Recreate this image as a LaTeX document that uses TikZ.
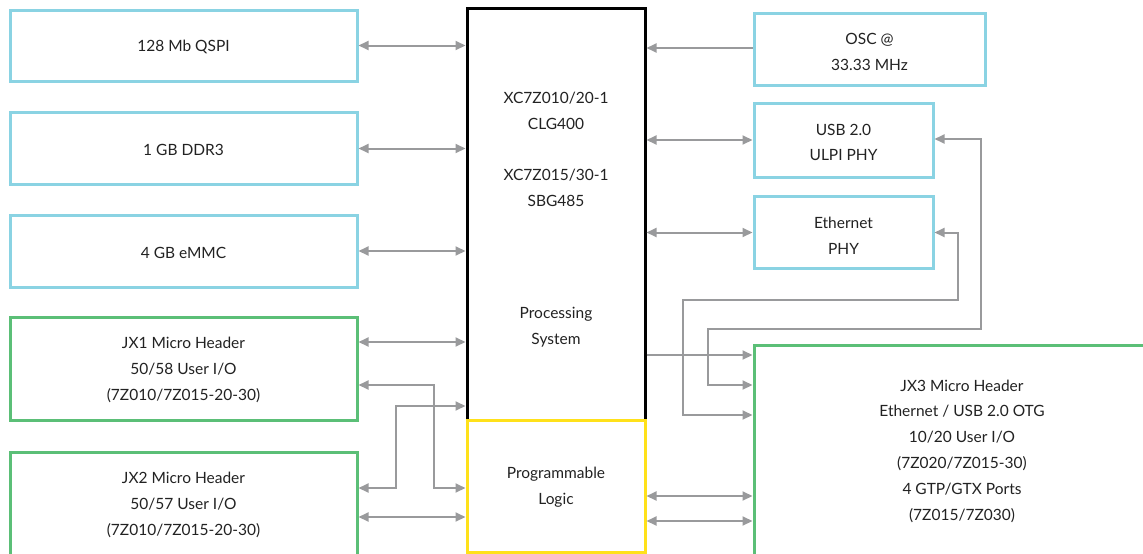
\documentclass[tikz,border=0pt]{standalone}
\usepackage{fontspec}
\setmainfont{Lato}
\usetikzlibrary{arrows.meta}
\definecolor{cblue}{HTML}{8AD3E3}
\definecolor{cgreen}{HTML}{5BBF77}
\definecolor{cyellow}{HTML}{FFE11A}
\definecolor{cgray}{HTML}{999A9C}
\definecolor{ctext}{HTML}{222222}
\tikzset{
  blk/.style={draw, line width=3pt, fill=white, inner sep=0pt},
  bluebox/.style={blk, draw=cblue},
  greenbox/.style={blk, draw=cgreen},
  lbl/.style={align=center, text=ctext, font=\fontsize{15.5}{25.8}\selectfont, inner sep=0pt, yshift=-1.5pt},
  conn/.style={draw=cgray, line width=2pt},
  dbl/.style={conn, {Triangle[length=10pt,width=9pt]}-{Triangle[length=10pt,width=9pt]}},
  sgl/.style={conn, -{Triangle[length=10pt,width=9pt]}}
}
\begin{document}
\begin{tikzpicture}[x=1pt,y=-1pt]
\useasboundingbox (0,0) rectangle (1143,554);
% left column
\node[bluebox, minimum width=347pt, minimum height=71pt] (qspi) at (183.5,45.5) {};
\node[lbl] (qspit) at (qspi) {128 Mb QSPI};
\node[bluebox, minimum width=347pt, minimum height=72pt] (ddr) at (183.5,148.5) {};
\node[lbl] (ddrt) at (ddr) {1 GB DDR3};
\node[bluebox, minimum width=347pt, minimum height=72pt] (emmc) at (183.5,251) {};
\node[lbl] (emmct) at (emmc) {4 GB eMMC};
\node[greenbox, minimum width=347pt, minimum height=103pt] (jx1) at (183.5,368.5) {};
\node[lbl] (jx1t) at (jx1) {JX1 Micro Header\\50/58 User I/O\\(7Z010/7Z015-20-30)};
\node[greenbox, minimum width=347pt, minimum height=106pt] (jx2) at (183.5,505) {};
\node[lbl] (jx2t) at (183.5,503.5) {JX2 Micro Header\\50/57 User I/O\\(7Z010/7Z015-20-30)};
% centre
\node[blk, draw=black, minimum width=178pt, minimum height=412pt] (ps) at (556,214) {};
\node[lbl] (ps1) at (556,109.5) {XC7Z010/20-1\\CLG400};
\node[lbl] (ps2) at (556,186.5) {XC7Z015/30-1\\SBG485};
\node[lbl] (ps3) at (556,326) {Processing\\System};
\node[blk, draw=cyellow, minimum width=178pt, minimum height=132pt] (pl) at (556,486) {};
\node[lbl] (plt) at (pl) {Programmable\\Logic};
% right column
\node[bluebox, minimum width=231pt, minimum height=72pt] (osc) at (869.5,49.5) {};
\node[lbl] (osct) at (869.5,50.5) {OSC @\\33.33 MHz};
\node[bluebox, minimum width=179pt, minimum height=74pt] (usb) at (843.5,140) {};
\node[lbl] (usbt) at (843.5,141) {USB 2.0\\ULPI PHY};
\node[bluebox, minimum width=179pt, minimum height=72pt] (eth) at (843.5,232.5) {};
\node[lbl] (etht) at (843.5,234) {Ethernet\\PHY};
\node[greenbox, minimum width=392pt, minimum height=215pt] (jx3) at (950,452.5) {};
\node[lbl] (jx3t) at (962,449.5) {JX3 Micro Header\\Ethernet / USB 2.0 OTG\\10/20 User I/O\\(7Z020/7Z015-30)\\4 GTP/GTX Ports\\(7Z015/7Z030)};
% left connectors
\draw[dbl] (qspi.east) -- (qspi.east -| ps.west);
\draw[dbl] (ddr.east) -- (ddr.east -| ps.west);
\draw[dbl] (emmc.east) -- (emmc.east -| ps.west);
\draw[dbl] (jx1.east |- 0,342) -- (ps.west |- 0,342);
\draw[dbl] (jx1.east |- 0,385) -| (434,488) -- (pl.west |- 0,488);
\draw[dbl] (jx2.east |- 0,488) -| (396,406) -- (ps.west |- 0,406);
\draw[dbl] (jx2.east |- 0,517) -- (pl.west |- 0,517);
% right connectors
\draw[sgl] (osc.west |- 0,48) -- (ps.east |- 0,48);
\draw[dbl] (usb.west) -- (usb.west -| ps.east);
\draw[dbl] (eth.west) -- (eth.west -| ps.east);
\draw[sgl] (ps.east |- 0,355) -- (jx3.west |- 0,355);
\draw[dbl] (usb.east |- 0,139) -| (981,329) -| (708,385) -- (jx3.west |- 0,385);
\draw[dbl] (eth.east) -| (958,300) -| (683,415) -- (jx3.west |- 0,415);
\draw[dbl] (pl.east |- 0,496) -- (jx3.west |- 0,496);
\draw[dbl] (pl.east |- 0,521) -- (jx3.west |- 0,521);
\end{tikzpicture}
\end{document}
